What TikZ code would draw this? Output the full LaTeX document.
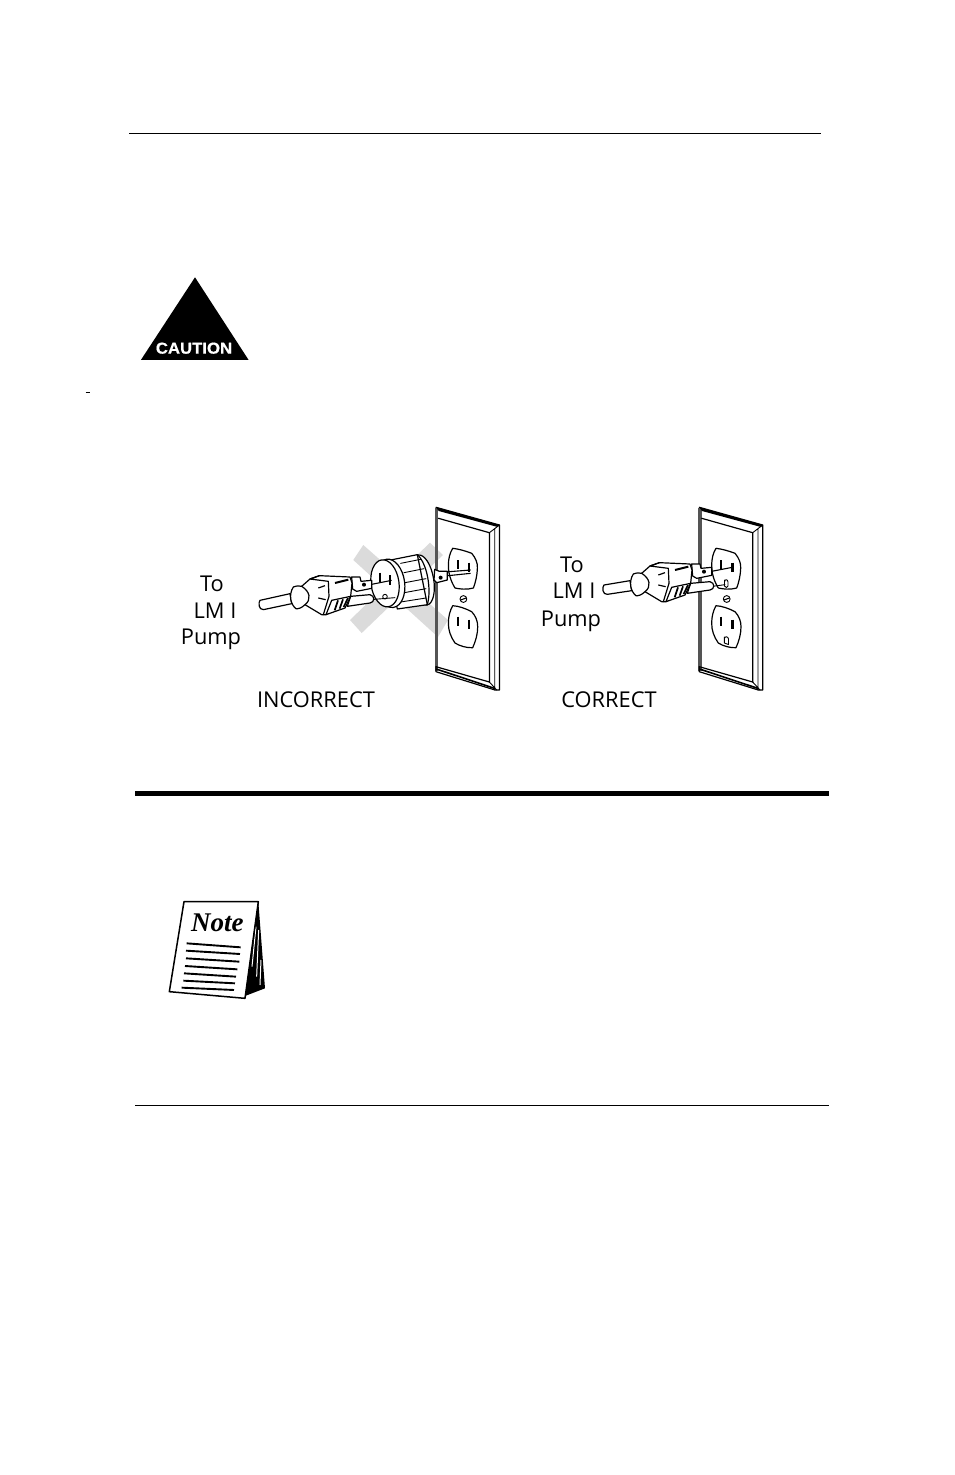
\documentclass[tikz,border=0pt]{standalone}
\usepackage{fontspec}
\setmainfont{Open Sans}
\newfontfamily\cautionfont[FakeBold=0.7,FakeStretch=1.06]{Liberation Sans Bold}
\newfontfamily\notefont{Liberation Serif}
\tikzset{
  ink/.style={line width=1.2pt,line join=round,line cap=round},
  thin ink/.style={line width=.9pt,line join=round,line cap=round},
  lbl/.style={font=\fontsize{21.8}{24}\selectfont,inner sep=0pt,anchor=base},
  zoomed/.style={x=0.3333pt,y=-0.3333pt},
}
\definecolor{xgray}{gray}{0.86}
\definecolor{bandgray}{gray}{0.33}
\newcommand{\plateface}{%
  \fill[white] (698.3,507.3) -- (762.7,525) -- (762.7,690) -- (698.3,670) -- cycle;
}
\newcommand{\platelines}{%
  \fill[bandgray] (698.2,507.5) rectangle (701.7,671);
  \draw[ink] (699.3,507.3) -- (762.7,525) -- (762.7,690) -- (758.3,690) -- (699.3,671.7) -- (699.3,666.7) (752.7,682) -- (752.7,532.7) -- (701.7,518.3);
  \draw[ink] (699.3,666.7) -- (752.7,682);
  \fill (699.3,507.3) -- (762.7,525) -- (761,527) -- (702,511) -- cycle;
  \draw[thin ink] (762.7,525) -- (752.7,532.7) (758,529) -- (758,690) (752.7,682) -- (760,690);
  \draw[line width=1.6pt] (699.5,669) -- (758.3,688.5);
}
\newcommand{\outlets}{%
  \draw[ink,fill=white] (716,548.3) .. controls (722,549) and (729,551) .. (735,553.3) .. controls (739,558) and (741,563) .. (740.7,568) .. controls (740.5,575) and (739,582) .. (736.7,588) .. controls (730,590) and (723,589) .. (718.3,588) .. controls (714,581) and (711.5,573) .. (711.7,565) .. controls (711.7,559) and (713,553) .. (716,548.3) -- cycle;
  \draw[ink,fill=white] (716,605.7) .. controls (722,606) and (729,608.5) .. (735,611.7) .. controls (739,616) and (741,621) .. (741,626.7) .. controls (741,634) and (739,641) .. (736,647.7) .. controls (730,648) and (723,646) .. (718.3,643) .. controls (714,637) and (711.5,630) .. (711.7,623) .. controls (711.7,617) and (713,611) .. (716,605.7) -- cycle;
  \draw[thin ink,fill=white] (726.7,599) circle[radius=3.4];
  \draw[line width=1.1pt] (724,600) -- (729.4,598);
  \draw[line width=2pt] (721,616.7) -- (721,625.7);
  \draw[line width=2.4pt] (732.3,619.5) -- (732.3,629);
  \draw[line width=1.6pt] (721,560) -- (721,569.3);
  \draw[line width=2.4pt] (732.3,562.7) -- (732.3,571.7);
}
\newcommand{\plugbody}{%
  \draw[ink,fill=white] (272,100) -- (330,95) .. controls (345,98) and (345,118) .. (330,120) -- (262,130) -- cycle;
  \draw[ink,fill=white] (275,42) -- (300,42) -- (303,55) -- (335,52) -- (335,76) -- (290,85) -- (278,78) -- cycle;
  \fill (312,65) circle[radius=6];
  \draw[ink,fill=white] (100,72) .. controls (110,68) and (118,68) .. (125,70) -- (150,48) -- (178,38) -- (270,42) -- (276,60) -- (272,100) -- (198,155) -- (185,155) -- (135,125) .. controls (125,135) and (115,138) .. (108,137) .. controls (92,125) and (85,95) .. (100,72) -- cycle;
  \draw[ink] (125,70) .. controls (150,85) and (155,110) .. (135,125);
  \draw[ink] (178,38) -- (150,48) (150,48) -- (205,55) -- (207,100) -- (190,155);
  \draw[line width=1.2pt] (175,75) -- (195,68) (175,105) -- (197,110);
  \draw[line width=2pt] (225,60) -- (265,50);
  \draw[ink,fill=white] (215,112) -- (272,100) -- (255,135) -- (198,155) -- cycle;
  \foreach \a/\b/\c/\d in {234/112/224/142,249/109/239/137,264/105/251/132}
    \draw[line width=1.7pt] (\a,\b) -- (\c,\d);
}
\begin{document}
\begin{tikzpicture}[x=1pt,y=-1pt]
\useasboundingbox (0,0) rectangle (954,1475);
\fill[white] (0,0) rectangle (954,1475);
% rules
\draw[line width=1pt] (129,133.5) -- (821,133.5);
\draw[line width=5pt] (135,793) -- (829,793);
\draw[line width=1pt] (135,1105) -- (829,1105);
\draw[line width=.8pt] (85.5,392.5) -- (90,392.5);
% caution
\fill (195,277.3) -- (248.5,359.8) -- (141,359.8) -- cycle;
\node[text=white,inner sep=0pt,font=\cautionfont\fontsize{15.8}{18}\selectfont] (caution) at (194,348.2) {CAUTION};
% note
\begin{scope}[shift={(150,890)},zoomed]
  \fill (325,35) -- (345,295) -- (285,318) -- cycle;
  \draw[white,line width=1pt] (318,110) -- (306,230) (326,120) -- (320,260) (333,210) -- (330,285);
  \draw[line width=1.5pt,line join=round,fill=white] (102,35) -- (325,35) -- (285,325) -- (58,305) -- cycle;
  \foreach \a/\b/\c/\d in {110/160/272/172,108/182/270/192,108/205/268/215,105/228/262/238,102/250/258/260,100/272/255/280,95/293/252/300}
    \draw[line width=1.9pt] (\a,\b) -- (\c,\d);
  \node[inner sep=0pt,font=\notefont\bfseries\itshape\fontsize{27}{30}\selectfont] (note) at (202,98) {Note};
\end{scope}
% left plate
\begin{scope}[shift={(-263.3,0)}]
  \plateface
\end{scope}
% gray cross
\fill[xgray] (353.3,560) -- (363.3,545) -- (448,620) -- (438,637) -- cycle;
\fill[xgray] (350,620) -- (361.7,633) -- (443,555) -- (430,542.7) -- cycle;
\begin{scope}[shift={(-263.3,0)}]
  \platelines
  \outlets
\end{scope}
% adapter
\begin{scope}[shift={(340,530)},zoomed]
  \draw[line width=1.1pt] (315,126) -- (392,120);
  \draw[line width=1.1pt] (315,138) -- (392,130);
  \draw[ink,fill=white] (284,118) -- (298,124) -- (322,124) -- (322,150) -- (290,158) -- (282,150) -- cycle;
  \fill (302,143) circle[radius=6];
  \draw[ink,fill=white] (248,150) ellipse[x radius=33,y radius=76,rotate=10];
  \draw[ink,fill=white] (142,92) -- (232,74) -- (262,224) -- (172,237) -- cycle;
  \draw[ink] (232,74) .. controls (262,100) and (275,180) .. (262,224);
  \foreach \a/\b/\c/\d in {182/100/242/88,192/128/252/116,195/158/258/146,193/188/258/176,182/216/258/204}
    \draw[thin ink] (\a,\b) -- (\c,\d);
  \draw[ink,fill=white] (150,160) ellipse[x radius=44,y radius=73,rotate=8];
  \draw[ink,fill=white] (135,160) ellipse[x radius=42,y radius=71,rotate=8];
  \draw[line width=1.2pt] (120,128) -- (120,155);
  \draw[line width=2.6pt] (150,136) -- (150,165);
  \draw[thin ink] (135,200) circle[radius=7];
\end{scope}
% left plug
\begin{scope}[shift={(-340,13)}]
 \begin{scope}[shift={(600,550)},zoomed]
  \draw[line width=1.1pt] (335,64) -- (395,52);
  \draw[thin ink] (330,110) -- (405,104);
  \draw[ink,fill=white] (0,112) -- (90,92) -- (95,122) -- (10,140) .. controls (-5,140) and (-5,118) .. (0,112) -- cycle;
  \plugbody
 \end{scope}
\end{scope}
% right plate
\plateface
\platelines
\outlets
\draw[thin ink] (724.5,580) -- (724.5,586) .. controls (725,588) and (728,588) .. (728,586) -- (728,582) .. controls (728,579) and (724.5,579) .. (724.5,582);
\draw[thin ink] (724.3,637) -- (724.3,643) -- (728.5,644.5) -- (728.5,639) .. controls (728,636) and (724.5,636) .. (724.3,639);
% right plug
\begin{scope}[shift={(600,550)},zoomed]
  \draw[line width=1.1pt] (335,64) -- (397,52);
  \draw[thin ink] (330,110) -- (375,104);
  \draw[ink,fill=white] (12,105) -- (90,92) -- (95,122) -- (22,133) .. controls (8,135) and (5,112) .. (12,105) -- cycle;
  \plugbody
\end{scope}
% labels
\node[lbl] (to1) at (212,591.7) {To};
\node[lbl] (lm1) at (215,618.3) {LM I};
\node[lbl] (pump1) at (211,644.3) {Pump};
\node[lbl] (to2) at (572,572) {To};
\node[lbl] (lm2) at (574,598) {LM I};
\node[lbl] (pump2) at (571,626) {Pump};
\node[lbl] (incorrect) at (316,707.8) {INCORRECT};
\node[lbl] (correct) at (609,707.8) {CORRECT};
\end{tikzpicture}
\end{document}
